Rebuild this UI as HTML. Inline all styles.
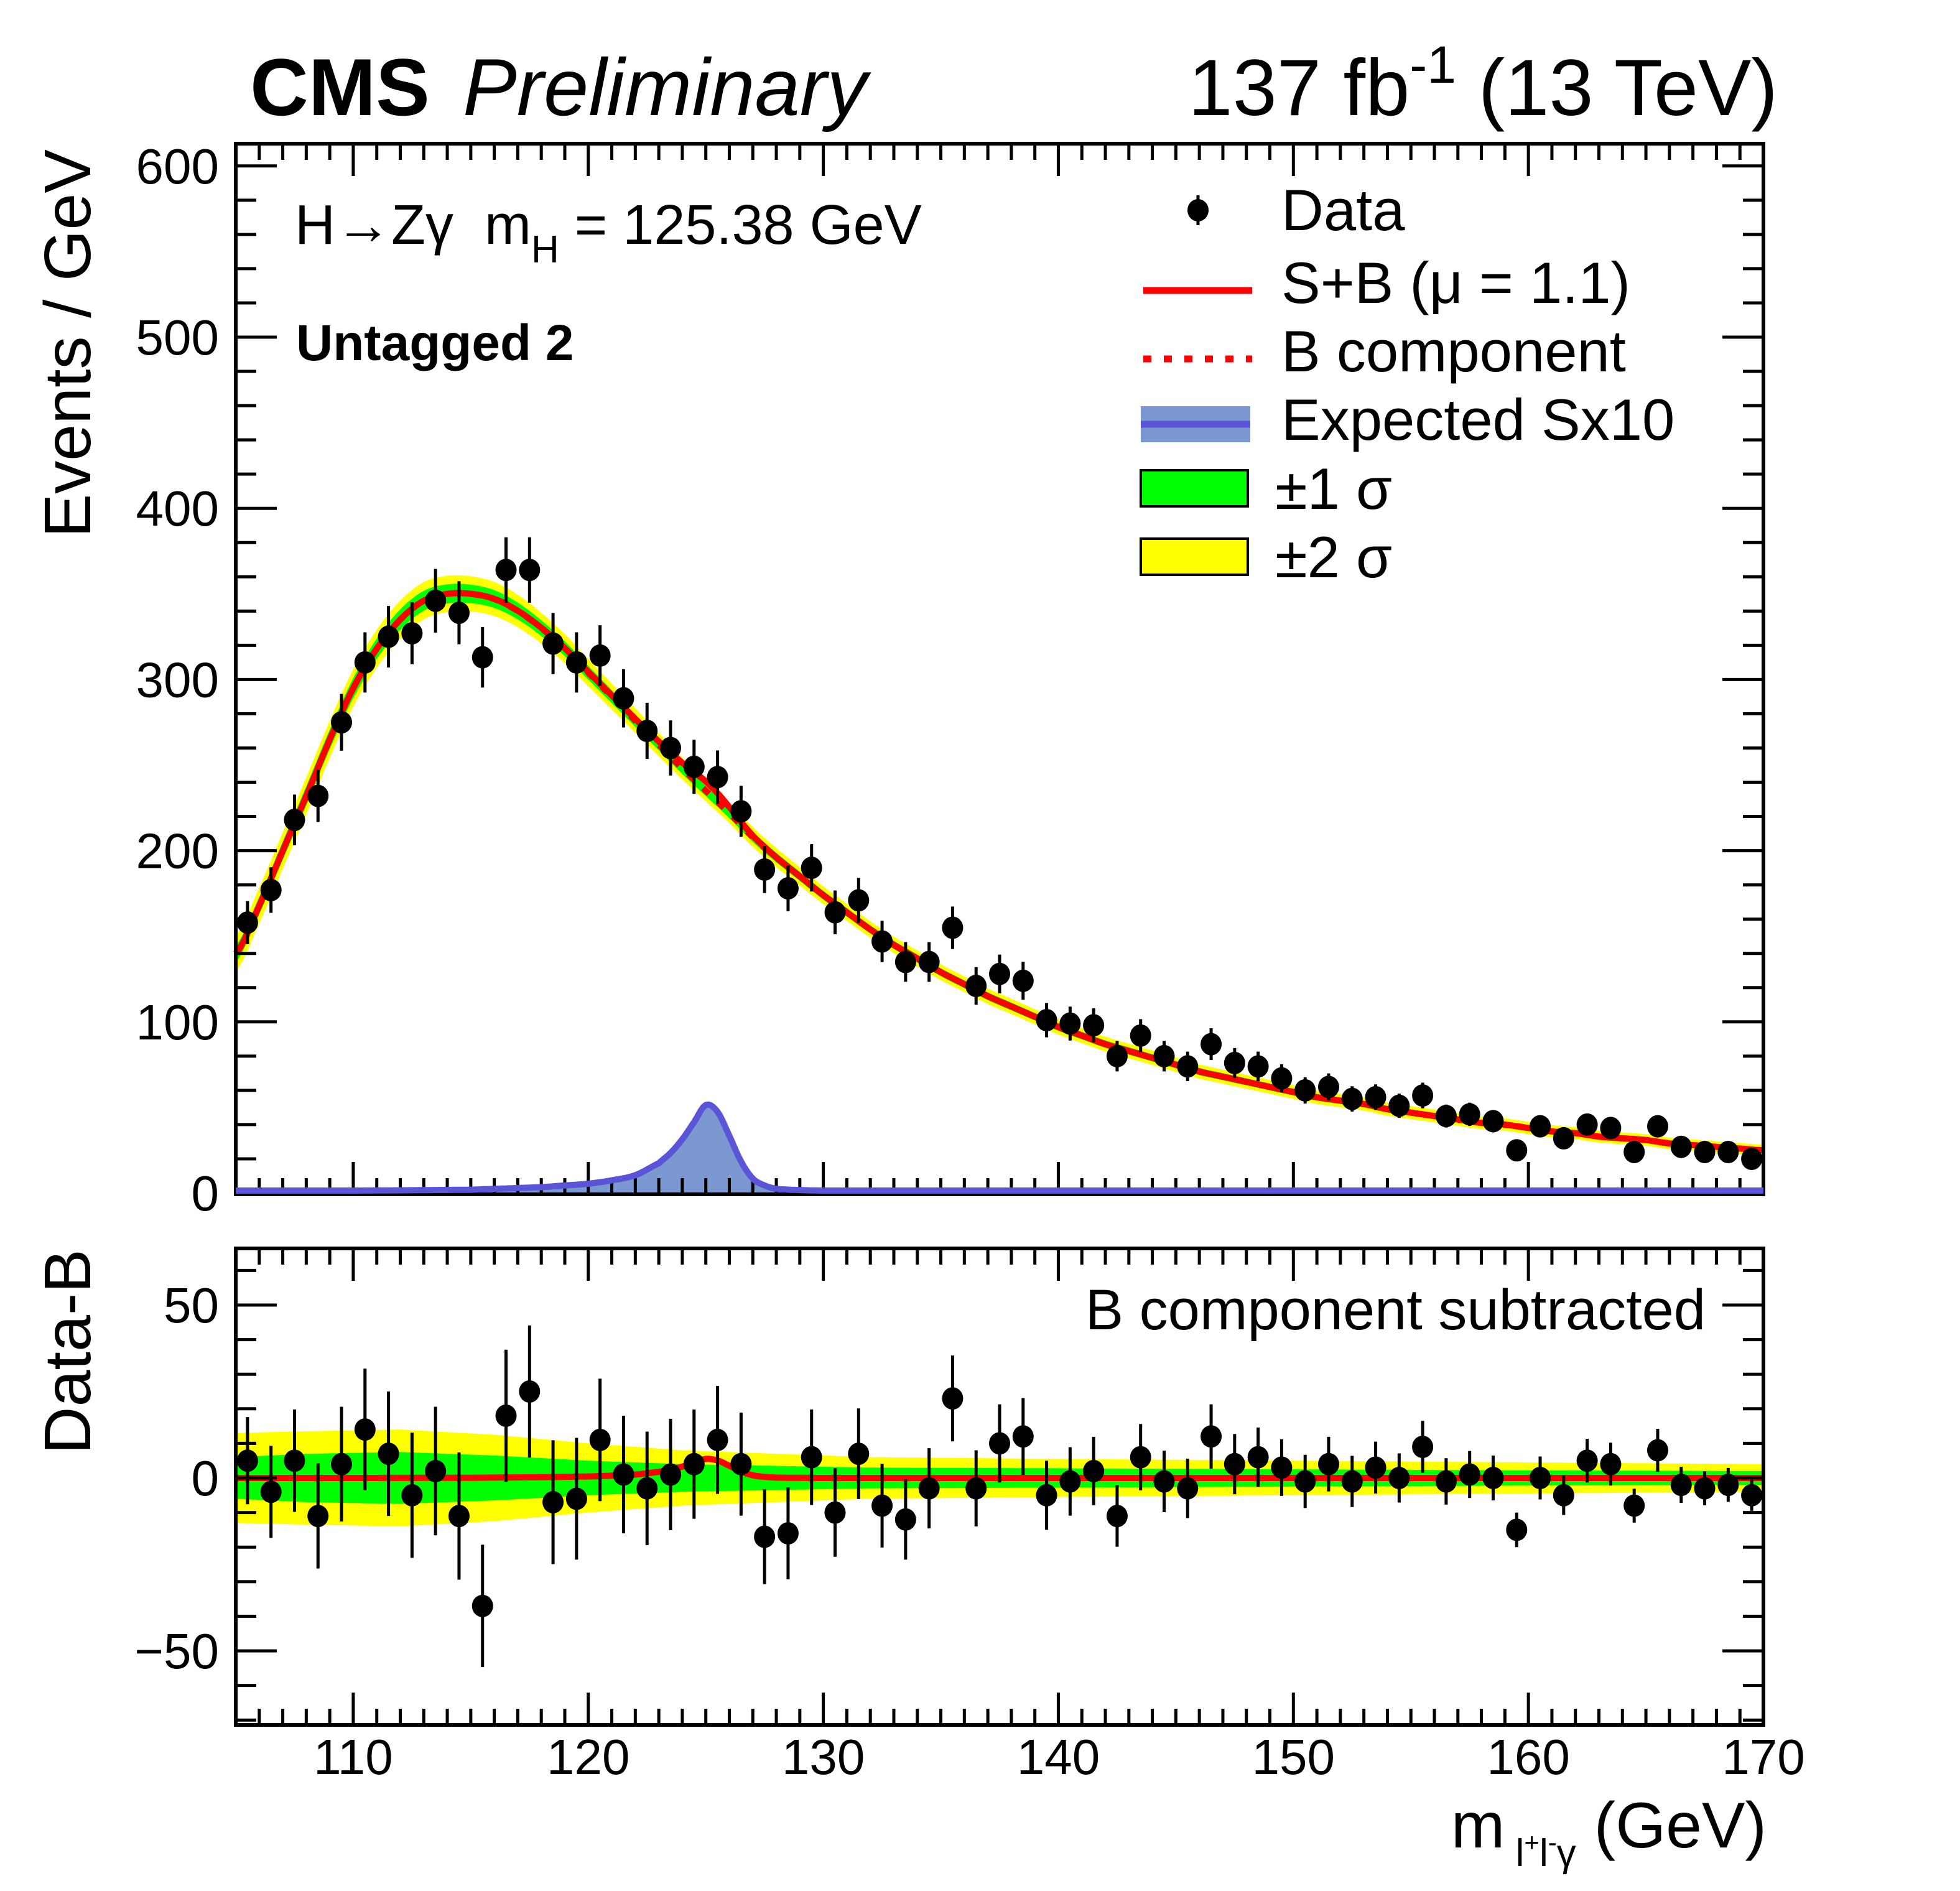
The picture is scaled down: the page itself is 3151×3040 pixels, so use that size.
<!DOCTYPE html>
<html><head><meta charset="utf-8">
<style>
html,body{margin:0;padding:0;background:#fff;}
svg{display:block;font-family:"Liberation Sans",Arial,sans-serif;}
text{white-space:pre;}
</style></head>
<body>
<svg id="chart" width="3151" height="3040" viewBox="0 0 3151 3040" xmlns="http://www.w3.org/2000/svg">
<g id="bands"></g>
<g id="curves"></g>
<g id="points"></g>
<g id="axes"></g>
<g id="over"></g>
<g>
<text x="402" y="185" font-size="130" font-weight="bold">CMS</text>
<text x="744" y="185" font-size="130" font-style="italic">Preliminary</text>
<text x="2858" y="185" font-size="128" text-anchor="end">137 fb<tspan dy="-52" font-size="84">-1</tspan><tspan dy="52"> (13 TeV)</tspan></text>
</g>
<text x="474" y="392" font-size="90">H→Zγ  m<tspan dy="30" font-size="62">H</tspan><tspan dy="-30"> = 125.38 GeV</tspan></text>
<text x="476" y="579" font-size="82" font-weight="bold">Untagged 2</text>
<text x="2742" y="2137" font-size="92" text-anchor="end">B component subtracted</text>
<text transform="translate(145,240) rotate(-90)" font-size="106" text-anchor="end">Events / GeV</text>
<text transform="translate(145,2338) rotate(-90)" font-size="106" text-anchor="start">Data-B</text>
<text x="2840" y="2970" font-size="104" text-anchor="end">m<tspan dy="30" font-size="62"> l<tspan dy="-24" font-size="42">+</tspan><tspan dy="24">l</tspan><tspan dy="-24" font-size="42">-</tspan><tspan dy="24">γ</tspan></tspan><tspan dy="-30"> (GeV)</tspan></text>
<g>
<g>
<line x1="1926" y1="314" x2="1926" y2="362" stroke="#000" stroke-width="5"/>
<ellipse cx="1926" cy="338" rx="17" ry="18" fill="#000"/>
<text x="2060" y="370" font-size="94">Data</text></g>
<g>
<line x1="1838" y1="467" x2="2013" y2="467" stroke="#ff0000" stroke-width="11"/>
<text x="2060" y="487" font-size="94">S+B (μ = 1.1)</text></g>
<g>
<line x1="1838" y1="577" x2="2013" y2="577" stroke="#ff0000" stroke-width="11" stroke-dasharray="13,20"/>
<text x="2060" y="597" font-size="94">B component</text></g>
<g>
<rect x="1834" y="653" width="176" height="58" fill="#7b99d0"/>
<line x1="1834" y1="682" x2="2010" y2="682" stroke="#5a55d6" stroke-width="11"/>
<text x="2060" y="707" font-size="94">Expected Sx10</text></g>
<g>
<rect x="1834" y="756" width="172" height="58" fill="#00ff00" stroke="#000" stroke-width="4"/>
<text x="2050" y="818" font-size="94">±1 σ</text></g>
<g>
<rect x="1834" y="866" width="172" height="58" fill="#ffff00" stroke="#000" stroke-width="4"/>
<text x="2050" y="928" font-size="94">±2 σ</text></g>
</g>
</svg>
<script>
const binCenters = [105.5,106.5,107.5,108.5,109.5,110.5,111.5,112.5,113.5,114.5,115.5,116.5,117.5,118.5,119.5,120.5,121.5,122.5,123.5,124.5,125.5,126.5,127.5,128.5,129.5,130.5,131.5,132.5,133.5,134.5,135.5,136.5,137.5,138.5,139.5,140.5,141.5,142.5,143.5,144.5,145.5,146.5,147.5,148.5,149.5,150.5,151.5,152.5,153.5,154.5,155.5,156.5,157.5,158.5,159.5,160.5,161.5,162.5,163.5,164.5,165.5,166.5,167.5,168.5,169.5];
const dataCounts = [158,177,218,232,275,310,325,327,346,339,313,364,364,321,310,314,289,270,260,249,243,223,189,178,190,164,171,147,135,135,155,121,128,124,101,99,98,80,92,80,74,87,76,74,67,60,62,55,56,51,57,45,46,42,25,39,32,40,38,24,39,27,24,24,20];
const dataErrors = [12.6,13.3,14.8,15.2,16.6,17.6,18,18.1,18.6,18.4,17.7,19.1,19.1,17.9,17.6,17.7,17,16.4,16.1,15.8,15.6,14.9,13.7,13.3,13.8,12.8,13.1,12.1,11.6,11.6,12.4,11,11.3,11.1,10,9.9,9.9,8.9,9.6,8.9,8.6,9.3,8.7,8.6,8.2,7.7,7.9,7.4,7.5,7.1,7.5,6.7,6.8,6.5,5,6.2,5.7,6.3,6.2,4.9,6.2,5.2,4.9,4.9,4.5];
const residuals = [5,-4,5,-11,4,14,7,-5,2,-11,-37,18,25,-7,-6,11,1,-3,1,4,11,4,-17,-16,6,-10,7,-8,-12,-3,23,-3,10,12,-5,-1,2,-11,6,-1,-3,12,4,6,3,-1,4,-1,3,0,9,-1,1,0,-15,0,-5,5,4,-8,8,-2,-3,-2,-5];
const bkgX = [105,106,107,108,109,110,111,112,113,114,115,116,117,118,119,120,121,122,123,124,125,126,127,128,129,130,131,132,133,134,135,136,137,138,139,140,141,142,143,144,145,146,147,148,149,150,151,152,153,154,155,156,157,158,159,160,161,162,163,164,165,166,167,168,169,170];
const bkgY = [140,168,200,232,265,295,318,335,346,350,350,347,340,330,318,304,290,276,262,248,235,222,208,196,185,174,164,154,145,137,129,122,115,109,103,97,92,87,83,79,75,71,68,65,62,59,56,54,52,49,47,45,43,41,40,38,36,35,33,32,31,29,28,27,26,25];
const sigX = [105,110,115,116,117,118,119,120,121,122,123,123.5,124,124.5,125,125.5,126,126.5,127,127.5,128,129,130,170];
const sigY10 = [0,0,0.5,1,1.5,2,3,4,6,9,16,22,30,40,50,46,32,17,7,3,1,0.3,0,0];
const mu = [1.1];
const bandX = [105,108,112,116,120,124,128,132,140,150,160,170];
const band1 = [6,7,7.5,6.5,5,4,3.5,3,2.8,2.5,2.2,2];
const band2 = [13,13.5,14,12.5,10,8,7,6,5.5,5,4.5,4];
const xTicks = [110,120,130,140,150,160,170];
const yTicksTop = [0,100,200,300,400,500,600];
const yTicksBot = [-50,0,50];

const NS='http://www.w3.org/2000/svg';
const X0=379,X1=2835, TOP0=231,TOP1=1920, BOT0=2007,BOT1=2773;
const sx=v=>X0+(v-105)*(X1-X0)/65;
const syT=v=>1918-v*2.752;
const syB=v=>2376-v*5.56;
function interp(xs,ys,x){if(x<=xs[0])return ys[0];for(let i=1;i<xs.length;i++){if(x<=xs[i]){const t=(x-xs[i-1])/(xs[i]-xs[i-1]);return ys[i-1]+t*(ys[i]-ys[i-1]);}}return ys[ys.length-1];}
function smooth(xs,ys,x){let i=1;while(i<xs.length-1&&x>xs[i])i++;const i1=i-1,i2=i;const i0=Math.max(0,i1-1),i3=Math.min(xs.length-1,i2+1);const t=(x-xs[i1])/(xs[i2]-xs[i1]);const p0=ys[i0],p1=ys[i1],p2=ys[i2],p3=ys[i3];const t2=t*t,t3=t2*t;return 0.5*((2*p1)+(-p0+p2)*t+(2*p0-5*p1+4*p2-p3)*t2+(-p0+3*p1-3*p2+p3)*t3);}
function mk(tag,attrs,parent){const e=document.createElementNS(NS,tag);for(const k in attrs)e.setAttribute(k,attrs[k]);parent.appendChild(e);return e;}
const gB=document.getElementById('bands'),gC=document.getElementById('curves'),gP=document.getElementById('points'),gA=document.getElementById('axes'),gO=document.getElementById('over');
const xs=[];for(let x=105;x<=170.0001;x+=0.1)xs.push(+x.toFixed(2));
const B=x=>smooth(bkgX,bkgY,x);
const S10=x=>Math.max(0,smooth(sigX,sigY10,x));
const SB=x=>B(x)+mu[0]*S10(x)/10;
function bandPath(fy,lo,hi){let d='';xs.forEach((x,i)=>{d+=(i?'L':'M')+sx(x).toFixed(1)+','+fy(hi(x)).toFixed(1);});for(let i=xs.length-1;i>=0;i--){const x=xs[i];d+='L'+sx(x).toFixed(1)+','+fy(lo(x)).toFixed(1);}return d+'Z';}
function linePath(fy,f){return xs.map((x,i)=>(i?'L':'M')+sx(x).toFixed(1)+','+fy(f(x)).toFixed(1)).join('');}
let e;
e=mk('path',{d:bandPath(syT,x=>B(x)-interp(bandX,band2,x)*0.8,x=>B(x)+interp(bandX,band2,x)*0.8),fill:'#ffff00'},gB);

e=mk('path',{d:bandPath(syT,x=>B(x)-interp(bandX,band1,x)*0.8,x=>B(x)+interp(bandX,band1,x)*0.8),fill:'#00ff00'},gB);

e=mk('path',{d:bandPath(syB,x=>-interp(bandX,band2,x),x=>interp(bandX,band2,x)),fill:'#ffff00'},gB);

e=mk('path',{d:bandPath(syB,x=>-interp(bandX,band1,x),x=>interp(bandX,band1,x)),fill:'#00ff00'},gB);

e=mk('path',{d:bandPath(syT,x=>0,S10),fill:'#7b99d0'},gC);

e=mk('path',{d:linePath(syT,B),fill:'none',stroke:'#ff0000','stroke-width':10,'stroke-dasharray':'13,20'},gC);

e=mk('path',{d:linePath(syT,SB),fill:'none',stroke:'#ff0000','stroke-width':10},gC);

e=mk('path',{d:linePath(syB,x=>mu[0]*S10(x)/10),fill:'none',stroke:'#ff0000','stroke-width':10},gC);

binCenters.forEach((c,i)=>{
  const x=sx(c);
  const g=mk('g',{},gP);
  
  
  mk('line',{x1:x,x2:x,y1:syT(dataCounts[i]-dataErrors[i]),y2:syT(dataCounts[i]+dataErrors[i]),stroke:'#000','stroke-width':5},g);
  mk('ellipse',{cx:x,cy:syT(dataCounts[i]),rx:17,ry:18,fill:'#000'},g);
  const g2=mk('g',{},gP);
  
  
  mk('line',{x1:x,x2:x,y1:syB(residuals[i]-dataErrors[i]),y2:syB(residuals[i]+dataErrors[i]),stroke:'#000','stroke-width':5},g2);
  mk('ellipse',{cx:x,cy:syB(residuals[i]),rx:17,ry:18,fill:'#000'},g2);
});
function frame(y0,y1,name){e=mk('rect',{x:X0,y:y0,width:X1-X0,height:y1-y0,fill:'none',stroke:'#000','stroke-width':6},gA);}
frame(TOP0,TOP1,'main-panel-frame');frame(BOT0,BOT1,'ratio-panel-frame');
let tk='';
for(let v=106;v<=170;v++){const x=sx(v);const L=(v%10===0)?52:26;[[TOP0,TOP1],[BOT0,BOT1]].forEach(([a,b])=>{tk+=`M${x},${a}v${L}M${x},${b}v${-L}`;});}
for(let v=0;v<=610;v+=20){const y=syT(v);if(y<TOP0)continue;const L=(v%100===0)?66:33;tk+=`M${X0},${y}h${L}M${X1},${y}h${-L}`;}
for(let v=-70;v<=66;v+=10){const y=syB(v);const L=(v%50===0)?66:33;tk+=`M${X0},${y}h${L}M${X1},${y}h${-L}`;}
e=mk('path',{d:tk,stroke:'#000','stroke-width':5,fill:'none'},gA);

xTicks.forEach(v=>{e=mk('text',{x:sx(v),y:2852,'font-size':80,'text-anchor':'middle'},gA);e.textContent=v;
});
yTicksTop.forEach(v=>{e=mk('text',{x:352,y:syT(v)+28,'font-size':80,'text-anchor':'end'},gA);e.textContent=v;
});
yTicksBot.forEach(v=>{e=mk('text',{x:352,y:syB(v)+28,'font-size':80,'text-anchor':'end'},gA);e.textContent=v<0?'−'+(-v):v;
});
e=mk('path',{d:linePath(x=>syT(x)-4,S10),fill:'none',stroke:'#5a55d6','stroke-width':10},gO);

</script>
</body></html>
